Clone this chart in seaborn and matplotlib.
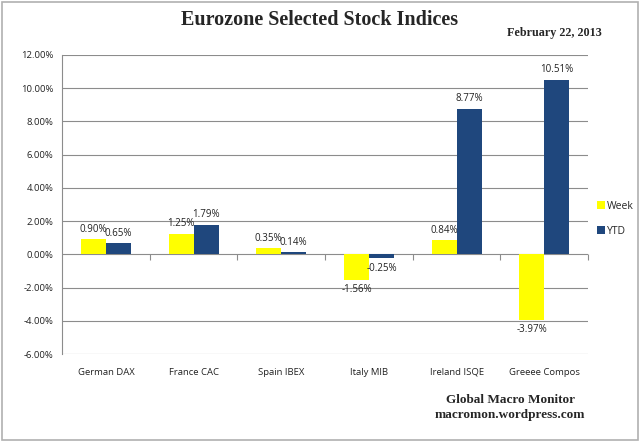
import pandas as pd
import matplotlib.pyplot as plt
import seaborn as sns
from matplotlib.patches import Rectangle

indices = ["German DAX", "France CAC", "Spain IBEX", "Italy MIB", "Ireland ISQE", "Greeee Compos"]
week = [0.90, 1.25, 0.35, -1.56, 0.84, -3.97]
ytd = [0.65, 1.79, 0.14, -0.25, 8.77, 10.51]
y_ticks = [-6, -4, -2, 0, 2, 4, 6, 8, 10, 12]

df = pd.DataFrame({
    "index": indices * 2,
    "value": week + ytd,
    "series": ["Week"] * len(indices) + ["YTD"] * len(indices),
})

sns.set_style("white")
plt.rcParams["font.family"] = ["Open Sans", "DejaVu Sans"]

fig = plt.figure(figsize=(6.4, 4.42), dpi=100)
ax = fig.add_axes([0.097, 0.199, 0.822, 0.677])

sns.barplot(data=df, x="index", y="value", hue="series",
            palette={"Week": "#FFFF00", "YTD": "#1F477D"},
            width=0.57, saturation=1, ax=ax, errorbar=None, zorder=3,
            linewidth=0, edgecolor="none")

# data labels
for cont in ax.containers:
    ax.bar_label(cont, labels=[f"{v:.2f}%" for v in cont.datavalues],
                 fontsize=7, color="#222222", padding=3)

ax.set_ylim(-6, 12)
ax.set_xlim(-0.5, 5.5)
ax.set_yticks(y_ticks)
ax.set_yticklabels([f"{t:.2f}%" for t in y_ticks], fontsize=6.8, color="#222222")
ax.yaxis.grid(True, color="#8C8C8C", linewidth=0.8, zorder=0)
ax.tick_params(axis="y", length=4, width=0.8, color="#8C8C8C", pad=2)
ax.tick_params(axis="x", length=0, labelsize=6.8, labelcolor="#222222", pad=10)
ax.set_xlabel("")
ax.set_ylabel("")
for s in ["top", "right", "bottom"]:
    ax.spines[s].set_visible(False)
ax.spines["left"].set_color("#8C8C8C")
ax.spines["left"].set_linewidth(0.8)

# category boundary ticks on the zero line
sec = ax.secondary_xaxis(1 / 3)
sec.set_xticks([i + 0.5 for i in range(len(indices) - 1)] + [5.5])
sec.set_xticklabels([])
sec.tick_params(length=4, width=0.8, color="#8C8C8C", direction="out")
sec.spines["bottom"].set_visible(False)

leg = ax.legend(loc="center left", bbox_to_anchor=(0.918, 0.505), bbox_transform=fig.transFigure,
                frameon=False, fontsize=7.5, handlelength=0.8, handleheight=0.8,
                handletextpad=0.15, labelspacing=1.3)

fig.text(0.5, 0.955, "Eurozone Selected Stock Indices", ha="center", va="center",
         family="Liberation Serif", weight="bold", fontsize=14.5)
fig.text(0.866, 0.925, "February 22, 2013", ha="center", va="center",
         family="Liberation Serif", weight="bold", fontsize=8.7)
fig.text(0.797, 0.094, "Global Macro Monitor", ha="center", va="center",
         family="Liberation Serif", weight="bold", fontsize=9.5)
fig.text(0.797, 0.062, "macromon.wordpress.com", ha="center", va="center",
         family="Liberation Serif", weight="bold", fontsize=9.5)

fig.patches.append(Rectangle((0.003, 0.004), 0.994, 0.992, transform=fig.transFigure,
                             fill=False, edgecolor="#B0B0B0", linewidth=1.2))

fig.savefig("out.png", dpi=100)
